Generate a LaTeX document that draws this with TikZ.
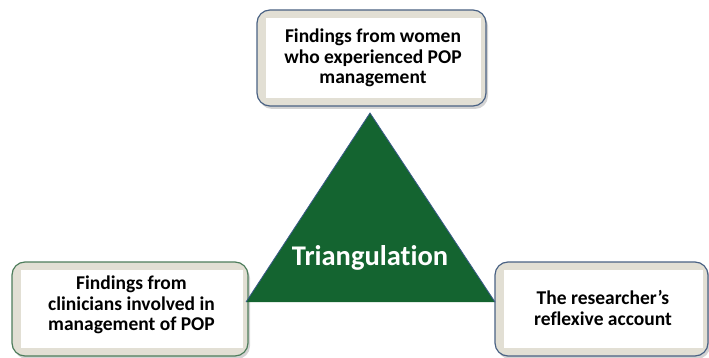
\documentclass[tikz,border=0pt]{standalone}
\usepackage{fontspec}
\setmainfont{Carlito}[Ligatures=NoCommon]
\usetikzlibrary{shadows}
\definecolor{trigreen}{HTML}{146430}
\definecolor{triedge}{HTML}{3A5A8A}
\definecolor{bandfill}{HTML}{E2DFD4}
\definecolor{blueedge}{HTML}{4A6284}
\definecolor{greenedge}{HTML}{4E7D5C}
\tikzset{
  outerbox/.style={draw=#1, line width=1.2pt, fill=bandfill, rounded corners=13pt,
    drop shadow={shadow xshift=2pt, shadow yshift=-3pt, opacity=0.35, fill=gray}},
  innerbox/.style={fill=white, inner sep=0pt},
  boxtext/.style={align=center, font=\fontsize{19.5}{20.5}\selectfont\bfseries, text=black},
}
\begin{document}
\begin{tikzpicture}[x=1pt,y=-1pt]
\useasboundingbox (0,0) rectangle (709,358);
% top box
\node[outerbox=blueedge, minimum width=229pt, minimum height=96pt] (topo) at (371.5,58) {};
\node[innerbox, minimum width=215pt, minimum height=80pt] (topi) at (373,58) {};
\node[boxtext] (topt) at (373,58) {Findings from women\\who experienced POP\\management};
% left box
\node[outerbox=greenedge, minimum width=236pt, minimum height=94pt] (lefto) at (130,309) {};
\node[innerbox, minimum width=222pt, minimum height=78pt] (lefti) at (131.5,309) {};
\node[boxtext] (leftt) at (131.5,305) {Findings from\\clinicians involved in\\management of POP};
% right box
\node[outerbox=blueedge, minimum width=213pt, minimum height=94pt] (righto) at (601.5,309) {};
\node[innerbox, minimum width=199pt, minimum height=78pt] (righti) at (603,309) {};
\node[boxtext] (rightt) at (603,308) {The researcher’s\\reflexive account};
% triangle
\coordinate (apex) at (370,113);
\coordinate (bl) at (246,302);
\coordinate (br) at (495,302);
\fill[trigreen] (apex) -- (br) -- (bl) -- cycle;
\draw[triedge, line width=0.8pt] (bl) -- (apex) -- (br);
\node[font=\fontsize{28.5}{32}\selectfont\bfseries, text=white] (tri) at (370,258) {Triangulation};
\end{tikzpicture}
\end{document}
